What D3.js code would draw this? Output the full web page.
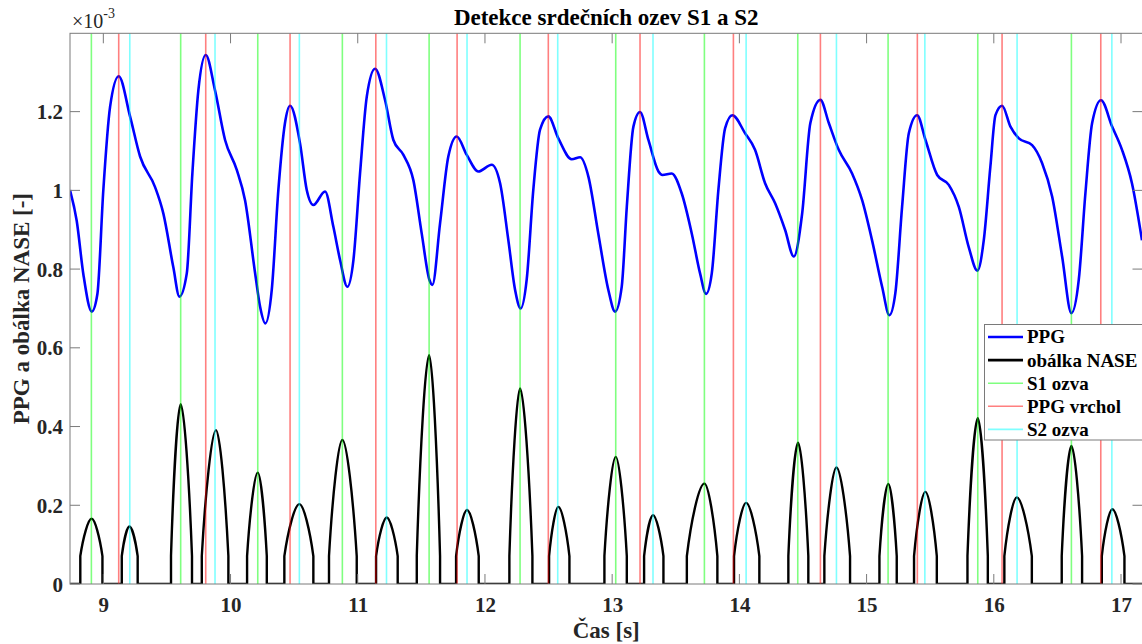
<!DOCTYPE html>
<html><head><meta charset="utf-8">
<script src="https://cdn.jsdelivr.net/npm/d3@7"></script>
<style>
html,body{margin:0;padding:0;background:#fff;}
svg{display:block;}
text{font-family:"Liberation Serif","Times New Roman",serif;}
</style></head>
<body>
<svg id="chart" width="1142" height="644"></svg>
<script>
// ---- data (PPG in units of 1e-3) ----
const ppgTime = [8.738,8.791,8.843,8.909,8.953,9.000,9.053,9.121,9.210,9.289,9.406,9.472,9.550,9.598,9.656,9.700,9.747,9.805,9.878,9.957,10.049,10.114,10.193,10.232,10.274,10.324,10.376,10.428,10.468,10.546,10.599,10.651,10.743,10.808,10.861,10.918,10.966,11.018,11.071,11.136,11.215,11.280,11.359,11.437,11.503,11.563,11.587,11.647,11.712,11.778,11.857,11.948,12.053,12.119,12.184,12.237,12.281,12.328,12.380,12.433,12.498,12.577,12.682,12.748,12.813,12.891,12.970,13.023,13.075,13.115,13.167,13.219,13.285,13.364,13.395,13.468,13.547,13.626,13.691,13.738,13.783,13.835,13.888,13.945,14.045,14.123,14.202,14.281,14.359,14.428,14.493,14.558,14.637,14.703,14.781,14.886,14.965,15.043,15.122,15.179,15.226,15.279,15.332,15.397,15.463,15.555,15.646,15.725,15.803,15.871,15.921,15.973,16.013,16.065,16.131,16.197,16.301,16.380,16.459,16.537,16.610,16.668,16.720,16.773,16.843,16.930,17.008,17.086,17.165];
const ppgValue = [1.001,0.922,0.787,0.692,0.736,1.001,1.212,1.290,1.188,1.086,1.009,0.941,0.805,0.730,0.789,1.043,1.254,1.344,1.254,1.128,1.052,0.975,0.790,0.705,0.662,0.747,1.001,1.171,1.215,1.120,1.001,0.963,0.997,0.908,0.823,0.755,0.823,1.043,1.238,1.309,1.229,1.128,1.090,1.026,0.890,0.773,0.760,0.916,1.086,1.137,1.090,1.048,1.065,1.018,0.873,0.747,0.700,0.773,1.001,1.154,1.188,1.132,1.079,1.084,1.035,0.890,0.747,0.692,0.755,0.958,1.162,1.199,1.128,1.048,1.039,1.043,0.992,0.890,0.789,0.737,0.789,1.001,1.158,1.191,1.145,1.103,1.018,0.967,0.900,0.832,0.940,1.171,1.230,1.171,1.103,1.043,0.975,0.873,0.755,0.683,0.739,0.958,1.145,1.191,1.128,1.039,1.014,0.958,0.856,0.796,0.873,1.060,1.191,1.215,1.162,1.132,1.115,1.069,0.984,0.832,0.688,0.773,0.992,1.171,1.229,1.162,1.103,1.018,0.873];

// NASE envelope humps
const envStart = [8.819,9.145,9.532,9.774,10.130,10.423,10.774,11.144,11.464,11.773,12.192,12.504,12.939,13.251,13.587,13.958,14.385,14.668,15.101,15.373,15.793,16.083,16.534,16.849];
const envPeakTime = [8.908,9.205,9.608,9.886,10.214,10.541,10.879,11.228,11.561,11.859,12.276,12.577,13.028,13.321,13.725,14.053,14.461,14.763,15.171,15.462,15.874,16.181,16.610,16.932];
const envEnd = [8.993,9.270,9.697,9.983,10.285,10.651,10.992,11.314,11.647,11.951,12.373,12.664,13.115,13.403,13.827,14.157,14.542,14.870,15.237,15.552,15.953,16.299,16.694,17.027];
const envPeakValue = [0.166,0.146,0.457,0.391,0.283,0.203,0.366,0.169,0.581,0.188,0.497,0.196,0.323,0.175,0.255,0.206,0.359,0.296,0.254,0.234,0.421,0.220,0.351,0.190];
const envThreshold = 0.071;

// markers
const s1Times = [8.906,9.608,10.214,10.879,11.561,12.276,13.028,13.725,14.459,15.169,15.874,16.610];
const peakTimes = [9.121,9.805,10.468,11.142,11.781,12.498,13.219,13.953,14.637,15.399,16.065,16.841];
const s2Times = [9.208,9.878,10.541,11.226,11.859,12.572,13.321,14.053,14.763,15.458,16.183,16.928];

const xTicks = [9,10,11,12,13,14,15,16,17];
const yTicks = [0,0.2,0.4,0.6,0.8,1,1.2];
const xDomain = [8.738, 17.165];
const yDomain = [0, 1.399];

const legendLabels = ["PPG","obálka NASE","S1 ozva","PPG vrchol","S2 ozva"];

// ---- layout ----
const L = 70, R = 1142.5, T = 33.3, B = 584;
const svg = d3.select("#chart");
const x = d3.scaleLinear().domain(xDomain).range([L, R - 0.5]);
const y = d3.scaleLinear().domain(yDomain).range([B, T]);

svg.append("defs").append("clipPath").attr("id","clip")
  .append("rect").attr("x",L).attr("y",T).attr("width",R-L).attr("height",B-T);

const plot = svg.append("g").attr("clip-path","url(#clip)");

// PPG
const ppgData = ppgTime.map((t,i)=>[t, ppgValue[i]]);
const line = d3.line().x(d=>x(d[0])).y(d=>y(d[1])).curve(d3.curveMonotoneX);
plot.append("path").attr("d", line(ppgData))
  .attr("fill","none").attr("stroke","#0000ff").attr("stroke-width",2.6).attr("stroke-linejoin","round");

// Envelope (humps drawn with d3.path)
const p = d3.path();
p.moveTo(x(xDomain[0]), y(0));
envStart.forEach((s,i)=>{
  const xs = x(s), xp = x(envPeakTime[i]), xe = x(envEnd[i]);
  const y0 = y(0), yt = y(envThreshold), yh = y(envPeakValue[i]);
  p.lineTo(xs, y0);
  p.lineTo(xs, yt);
  let w = xp - xs;
  p.bezierCurveTo(xs + 0.25*w, yt + 0.5*(yh-yt), xp - 0.3*w, yh, xp, yh);
  w = xe - xp;
  p.bezierCurveTo(xp + 0.3*w, yh, xe - 0.25*w, yt + 0.5*(yh-yt), xe, yt);
  p.lineTo(xe, y0);
});
p.lineTo(x(xDomain[1]), y(0));
plot.append("path").attr("d", p.toString())
  .attr("fill","none").attr("stroke","#000").attr("stroke-width",2.4).attr("stroke-linejoin","round");

// vertical marker lines
function vlines(times, color){
  plot.append("g").selectAll("line").data(times).join("line")
    .attr("x1",d=>x(d)).attr("x2",d=>x(d)).attr("y1",T).attr("y2",B)
    .attr("stroke",color).attr("stroke-opacity",0.5).attr("stroke-width",1.6);
}
vlines(s1Times, "#00ff00");
vlines(peakTimes, "#ff0000");
vlines(s2Times, "#00ffff");

// axes box & ticks
const axisColor = "#7a7a7a";
const axG = svg.append("g");
axG.append("rect").attr("x",L).attr("y",T).attr("width",R-L).attr("height",B-T)
  .attr("fill","none").attr("stroke",axisColor).attr("stroke-width",1);
const tickLen = 10;
xTicks.forEach(t=>{
  axG.append("line").attr("x1",x(t)).attr("x2",x(t)).attr("y1",B).attr("y2",B-tickLen).attr("stroke",axisColor);
  axG.append("line").attr("x1",x(t)).attr("x2",x(t)).attr("y1",T).attr("y2",T+tickLen).attr("stroke",axisColor);
});
yTicks.forEach(v=>{
  axG.append("line").attr("x1",L).attr("x2",L+tickLen).attr("y1",y(v)).attr("y2",y(v)).attr("stroke",axisColor);
  axG.append("line").attr("x1",R-tickLen).attr("x2",R).attr("y1",y(v)).attr("y2",y(v)).attr("stroke",axisColor);
});

// tick labels via d3 axes (lines hidden)
const xAxis = d3.axisBottom(x).tickValues(xTicks).tickFormat(d3.format("d")).tickSize(0).tickPadding(0);
const gx = svg.append("g").attr("transform",`translate(0,${B})`).call(xAxis);
gx.select(".domain").remove();
gx.selectAll("text").attr("y",27.7).attr("dy",0).attr("font-size",21).attr("font-weight","bold")
  .attr("font-family","Liberation Serif, serif").attr("fill","#262626");

const yAxis = d3.axisLeft(y).tickValues(yTicks).tickFormat(d=>d===0?"0":d3.format("")(d)).tickSize(0).tickPadding(7);
const gy = svg.append("g").attr("transform",`translate(${L},0)`).call(yAxis);
gy.select(".domain").remove();
gy.selectAll("text").attr("font-size",21).attr("font-weight","bold")
  .attr("font-family","Liberation Serif, serif").attr("fill","#262626").attr("dy","0.34em");

// exponent
const ex = svg.append("text").attr("x",72).attr("y",28).attr("font-size",20).attr("fill","#262626");
ex.append("tspan").text("×10");
ex.append("tspan").attr("dy",-10).attr("font-size",14).text("-3");

// title & labels
svg.append("text").attr("x",(L+R)/2).attr("y",25).attr("text-anchor","middle")
  .attr("font-size",23).attr("font-weight","bold").attr("fill","#000").text("Detekce srdečních ozev S1 a S2");
svg.append("text").attr("x",(L+R)/2).attr("y",638).attr("text-anchor","middle")
  .attr("font-size",23).attr("font-weight","bold").attr("fill","#262626").text("Čas [s]");
svg.append("text").attr("transform",`translate(29,${(T+B)/2}) rotate(-90)`).attr("text-anchor","middle")
  .attr("font-size",23).attr("font-weight","bold").attr("fill","#262626").text("PPG a obálka NASE [-]");

// legend
const lg = svg.append("g");
lg.append("rect").attr("x",984.5).attr("y",324.5).attr("width",170).attr("height",115.5)
  .attr("fill","#fff").attr("stroke",axisColor).attr("stroke-width",1);
const legStyles = [
  {c:"#0000ff", w:2.6, o:1},
  {c:"#000000", w:2.6, o:1},
  {c:"#00ff00", w:1.6, o:0.5},
  {c:"#ff0000", w:1.6, o:0.5},
  {c:"#00ffff", w:1.6, o:0.5}
];
legendLabels.forEach((lab,i)=>{
  const yy = 337 + i*23.1;
  lg.append("line").attr("x1",988).attr("x2",1023).attr("y1",yy).attr("y2",yy)
    .attr("stroke",legStyles[i].c).attr("stroke-opacity",legStyles[i].o).attr("stroke-width",legStyles[i].w);
  lg.append("text").attr("x",1027).attr("y",yy).attr("dy","0.34em").attr("font-size",19)
    .attr("font-weight","bold").attr("fill","#000").text(lab);
});
</script>
</body></html>
